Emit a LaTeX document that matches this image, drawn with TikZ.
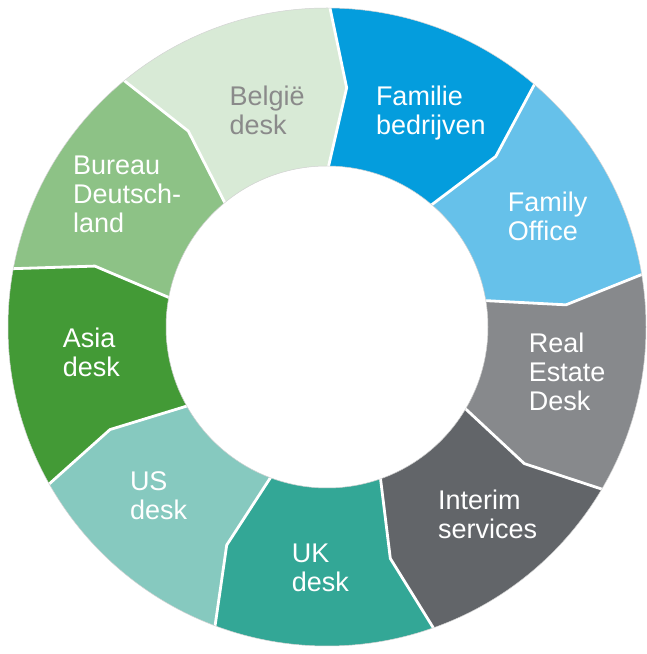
\documentclass[tikz,border=0pt]{standalone}
\usepackage{fontspec}
\setmainfont{Liberation Sans}
\definecolor{cBel}{HTML}{D8EAD6}
\definecolor{cFam}{HTML}{049DDD}
\definecolor{cFO}{HTML}{66C1EA}
\definecolor{cRE}{HTML}{87898C}
\definecolor{cInt}{HTML}{626569}
\definecolor{cUK}{HTML}{33A796}
\definecolor{cUS}{HTML}{86C9BF}
\definecolor{cAsia}{HTML}{439A36}
\definecolor{cBur}{HTML}{8DC286}
\definecolor{cBelText}{HTML}{8A8A8A}
\tikzset{
  lbl/.style={anchor=base west, inner sep=0pt, align=left, text=white,
    font=\fontsize{27}{29}\selectfont},
  gap/.style={draw=white, line width=2.8pt, line join=round}
}
\begin{document}
\begin{tikzpicture}[x=1pt,y=1pt]
\useasboundingbox (0,0) rectangle (646,654);
\begin{scope}[shift={(327,327)}]
\foreach \k/\col in {0/cFam,1/cFO,2/cRE,3/cInt,4/cUK,5/cUS,6/cAsia,7/cBur,8/cBel}{
  \pgfmathsetmacro\a{89.5-40*\k}
  \pgfmathsetmacro\b{\a-40}
  \pgfmathsetmacro\ka{\a-4.2}
  \pgfmathsetmacro\kb{\b-4.2}
  \fill[\col] (\a:161pt) -- (\ka:240pt) -- (\a:319pt)
     arc[start angle=\a, end angle=\b, radius=319pt]
     -- (\kb:240pt) -- (\b:161pt)
     arc[start angle=\b, end angle=\a, radius=161pt] -- cycle;
}
\foreach \k in {0,...,8}{
  \pgfmathsetmacro\a{89.5-40*\k}
  \pgfmathsetmacro\ka{\a-4.2}
  \draw[gap] (\a:160pt) -- (\ka:240pt) -- (\a:320pt);
}
\draw[gray!35, line width=0.5pt] (0,0) circle[radius=319pt];
\draw[gray!35, line width=0.5pt] (0,0) circle[radius=161pt];
\end{scope}
\node[lbl, text=cBelText] (bel) at (229.5,519.5) {België\\desk};
\node[lbl] (fam) at (375.8,519) {Familie\\bedrijven};
\node[lbl] (fo) at (507.6,413) {Family\\Office};
\node[lbl] (re) at (528.6,243.7) {Real\\Estate\\Desk};
\node[lbl] (int) at (438,115) {Interim\\services};
\node[lbl] (uk) at (291.7,62.6) {UK\\desk};
\node[lbl] (us) at (129.8,134) {US\\desk};
\node[lbl] (asia) at (62.6,277) {Asia\\desk};
\node[lbl] (bur) at (73,421) {Bureau\\Deutsch-\\land};
\end{tikzpicture}
\end{document}
